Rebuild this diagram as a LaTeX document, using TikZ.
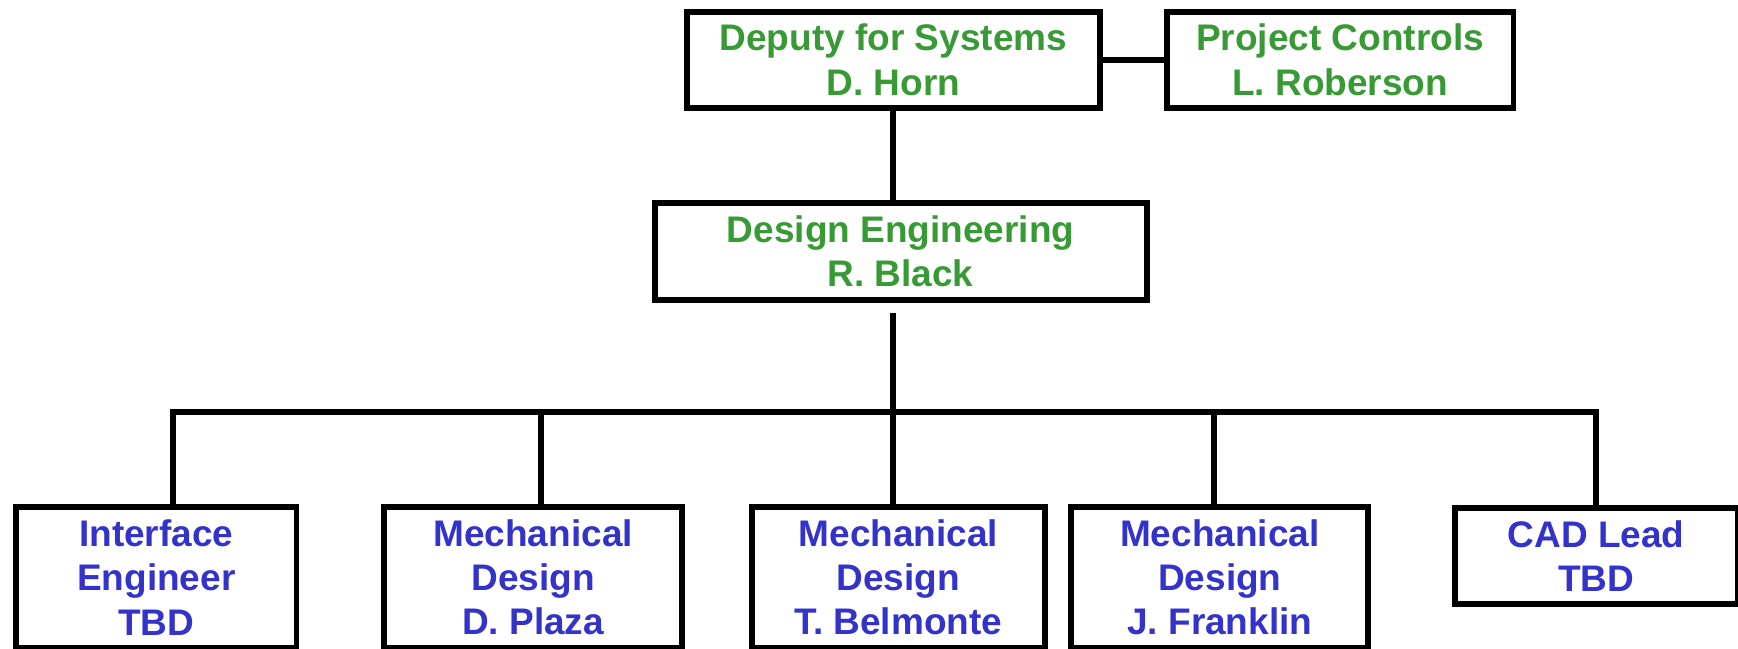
\documentclass[tikz,border=0pt]{standalone}
\usepackage{fontspec}
\setmainfont{Liberation Sans}
\usepackage{tikz}

\definecolor{mgrgreen}{RGB}{56,154,52}
\definecolor{staffblue}{RGB}{51,51,204}

\begin{document}
\begin{tikzpicture}[x=0.02cm,y=-0.02cm,line width=3pt,
  box/.style={draw,rectangle,align=center,inner sep=0pt,
    font=\fontsize{19}{22.7}\selectfont\bfseries},
  mgr/.style={box,text=mgrgreen,minimum height=1.74cm},
  staff/.style={box,text=staffblue,minimum height=2.53cm}]
\useasboundingbox (0,0) rectangle (1568,585.5);
\clip (0,0) rectangle (1568,585.5);
% managers
\node [mgr,minimum width=7.46cm] (deputy) at (806,54) {Deputy for Systems\\D. Horn};
\node [mgr,minimum width=6.26cm] (proj) at (1209,54) {Project Controls\\L. Roberson};
\node [mgr,minimum width=8.88cm] (design) at (812.5,227) {Design Engineering\\R. Black};
% staff
\node [staff,minimum width=5.06cm] (iface) at (141,521) {Interface\\Engineer\\TBD};
\node [staff,minimum width=5.38cm] (plaza) at (481,521) {Mechanical\\Design\\D. Plaza};
\node [staff,minimum width=5.28cm] (belmonte) at (810.5,521) {Mechanical\\Design\\T. Belmonte};
\node [staff,minimum width=5.36cm] (franklin) at (1100.5,521) {Mechanical\\Design\\J. Franklin};
\node [mgr,text=staffblue,minimum width=5.1cm] (cad) at (1440,501.5) {CAD Lead\\TBD};
% connectors
\draw (deputy.east) -- (proj.west);
\draw (deputy.south) -- (deputy.south |- design.north);
\coordinate (stem) at (806,282);
\coordinate (b1) at (156,372);
\coordinate (b2) at (488,372);
\coordinate (b3) at (806,372);
\coordinate (b4) at (1095,372);
\coordinate (b5) at (1440,372);
\draw (stem) -- (b3);
\draw (b1 |- iface.north) -- (b1) -- (b5) -- (b5 |- cad.north);
\draw (b2) -- (b2 |- plaza.north);
\draw (b3) -- (b3 |- belmonte.north);
\draw (b4) -- (b4 |- franklin.north);
\end{tikzpicture}
\end{document}
